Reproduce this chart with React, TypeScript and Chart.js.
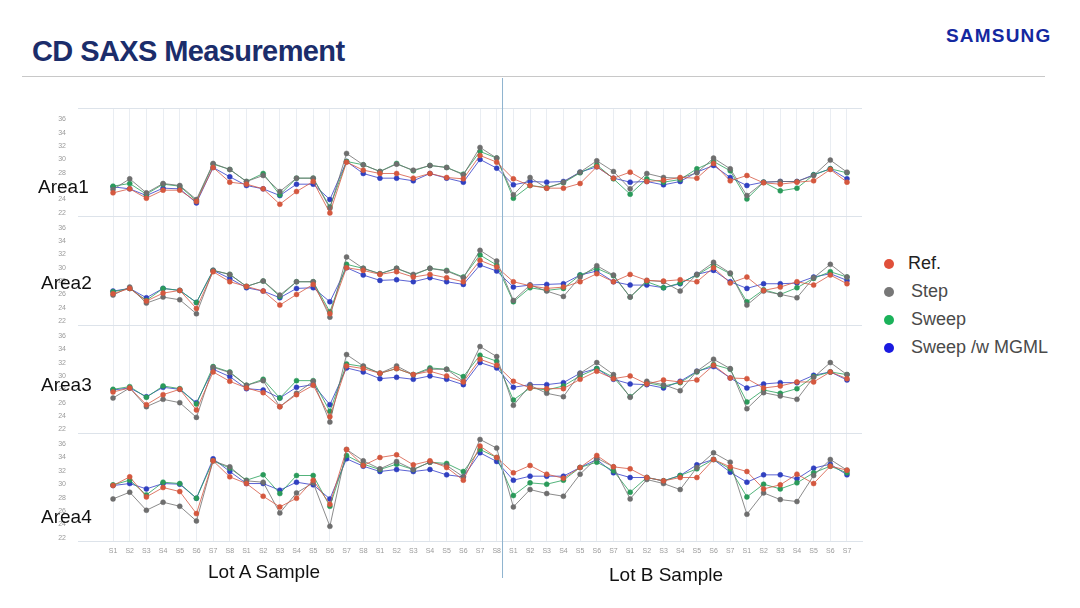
import { useEffect, useRef } from "react"
import { Chart, registerables } from "chart.js"

Chart.register(...registerables)

const sampleLabels = [
  "S1", "S2", "S3", "S4", "S5", "S6", "S7", "S8",
  "S1", "S2", "S3", "S4", "S5", "S6", "S7", "S8",
  "S1", "S2", "S3", "S4", "S5", "S6", "S7", "S8",
  "S1", "S2", "S3", "S4", "S5", "S6", "S7",
  "S1", "S2", "S3", "S4", "S5", "S6", "S7",
  "S1", "S2", "S3", "S4", "S5", "S6", "S7",
]
const yTicks = [22, 24, 26, 28, 30, 32, 34, 36]
const areaNames = ["Area1", "Area2", "Area3", "Area4"]
const seriesNames = ["Ref.", "Step", "Sweep", "Sweep /w MGML"]

const area1Ref = [25.0, 25.6, 24.2, 25.4, 25.4, 23.7, 28.8, 26.6, 26.3, 25.6, 23.3, 25.2, 26.7, 22.0, 29.6, 28.4, 27.9, 27.9, 27.2, 27.9, 27.3, 27.1, 30.6, 29.6,
  27.1, 26.1, 25.7, 25.7, 26.4, 28.9, 27.2, 28.1, 26.7, 26.9, 27.3, 27.2, 29.4, 26.8, 27.6, 26.5, 26.3, 26.6, 26.8, 28.5, 26.6]
const area1Step = [25.5, 27.1, 25.0, 26.4, 26.1, 24.0, 29.4, 28.5, 26.7, 27.6, 25.2, 27.2, 27.2, 22.7, 30.9, 29.2, 28.2, 29.3, 28.4, 29.1, 28.8, 27.7, 31.8, 30.2,
  24.7, 27.3, 25.7, 26.6, 28.1, 29.8, 28.2, 25.6, 27.9, 27.3, 27.2, 28.0, 30.2, 28.6, 24.6, 26.6, 26.7, 26.7, 27.6, 29.9, 28.1]
const area1Sweep = [26.0, 26.4, 24.8, 26.3, 26.0, 23.8, 29.3, 28.5, 26.7, 27.9, 24.7, 27.2, 27.2, 22.9, 29.7, 29.2, 28.2, 29.4, 28.3, 29.1, 28.8, 27.8, 31.2, 30.2,
  24.2, 26.1, 25.8, 26.5, 28.0, 29.2, 27.1, 24.8, 27.1, 26.6, 27.0, 28.6, 29.7, 28.3, 24.1, 26.6, 25.3, 25.7, 27.7, 28.6, 28.0]
const area1Mgml = [25.9, 25.6, 24.6, 25.7, 25.6, 23.5, 28.8, 27.4, 26.1, 25.6, 24.6, 26.3, 26.3, 24.0, 29.7, 27.9, 27.2, 27.2, 26.8, 27.9, 27.2, 26.6, 30.0, 28.7,
  26.2, 26.7, 26.6, 26.7, 28.1, 28.9, 27.2, 26.6, 26.7, 26.2, 26.7, 28.1, 29.1, 27.3, 26.1, 26.6, 26.7, 26.7, 27.7, 28.6, 27.1]

const area2Ref = [26.1, 26.9, 25.0, 26.2, 26.6, 23.9, 29.4, 27.9, 27.2, 26.5, 24.4, 26.0, 27.5, 23.1, 30.0, 29.6, 29.0, 29.4, 28.6, 29.0, 28.5, 27.9, 31.1, 30.1,
  27.9, 27.3, 26.9, 27.1, 27.9, 29.1, 27.9, 29.0, 28.1, 28.0, 28.2, 27.9, 30.0, 27.7, 28.6, 26.6, 27.1, 27.9, 27.4, 28.9, 27.6]
const area2Step = [25.9, 27.1, 24.7, 25.6, 25.2, 23.1, 29.6, 29.0, 27.2, 28.0, 25.9, 27.9, 27.9, 22.6, 31.6, 29.9, 29.1, 29.9, 29.0, 29.9, 29.5, 28.5, 32.6, 31.0,
  25.1, 27.4, 26.5, 25.7, 28.6, 30.3, 28.9, 25.6, 28.1, 27.9, 26.5, 29.0, 30.8, 29.2, 24.4, 26.5, 26.0, 25.5, 28.5, 30.5, 28.6]
const area2Sweep = [26.4, 26.9, 25.1, 26.9, 26.6, 24.8, 29.6, 29.0, 27.2, 28.0, 25.7, 27.9, 27.9, 23.4, 30.5, 29.9, 29.1, 29.9, 28.9, 29.9, 29.6, 28.6, 31.9, 30.4,
  24.9, 27.0, 26.6, 26.9, 28.9, 29.9, 28.8, 25.6, 27.9, 27.0, 27.7, 28.9, 30.4, 29.1, 24.9, 26.7, 26.0, 27.0, 28.4, 29.4, 28.6]
const area2Mgml = [26.5, 26.9, 25.5, 26.9, 26.6, 24.8, 29.6, 28.4, 27.0, 26.5, 25.5, 26.9, 27.0, 24.9, 30.0, 28.9, 28.1, 28.2, 27.9, 28.5, 27.9, 27.5, 30.4, 29.5,
  27.1, 27.4, 27.5, 27.6, 28.9, 29.5, 27.9, 27.4, 27.4, 27.0, 27.6, 29.0, 29.6, 27.9, 26.9, 27.6, 27.6, 27.7, 28.6, 29.1, 28.1]

const area3Ref = [27.6, 28.2, 25.7, 27.2, 28.0, 24.9, 30.6, 29.2, 28.2, 27.5, 25.4, 27.2, 28.6, 23.9, 31.5, 31.1, 30.4, 31.1, 30.2, 30.7, 30.0, 29.1, 32.5, 31.6,
  29.2, 28.2, 28.1, 28.1, 29.5, 30.7, 29.6, 30.0, 28.8, 29.4, 29.1, 29.4, 31.6, 29.7, 29.6, 28.2, 28.5, 29.1, 29.1, 30.6, 29.6]
const area3Step = [26.7, 28.2, 25.4, 26.5, 26.0, 23.8, 31.3, 30.5, 28.6, 29.3, 25.4, 27.4, 29.2, 23.1, 33.2, 31.5, 30.4, 31.5, 30.2, 31.0, 31.0, 29.2, 34.4, 32.9,
  25.6, 28.6, 27.4, 26.9, 30.4, 32.0, 30.2, 26.8, 29.2, 28.7, 27.8, 30.7, 32.5, 31.1, 25.1, 27.5, 27.0, 26.5, 29.8, 32.0, 30.2]
const area3Sweep = [28.0, 28.4, 26.8, 28.5, 28.1, 25.8, 31.4, 30.6, 28.6, 29.5, 26.7, 29.3, 29.3, 24.7, 31.8, 31.4, 30.4, 31.1, 30.2, 31.2, 31.0, 29.9, 33.1, 32.2,
  26.4, 28.2, 27.9, 28.5, 30.0, 31.1, 29.8, 26.9, 29.0, 28.5, 29.0, 30.6, 31.7, 31.0, 26.1, 27.9, 27.4, 28.1, 29.9, 30.6, 30.2]
const area3Mgml = [27.9, 28.2, 26.9, 28.3, 28.0, 26.0, 31.0, 29.9, 28.1, 27.9, 26.7, 28.3, 28.7, 25.7, 31.2, 30.6, 29.6, 29.8, 29.5, 30.0, 29.5, 28.7, 32.0, 31.2,
  28.3, 28.7, 28.7, 29.0, 30.4, 31.1, 29.5, 28.8, 28.7, 28.2, 29.2, 30.7, 31.4, 29.7, 28.2, 28.8, 29.0, 29.0, 30.1, 30.6, 29.4]

const area4Ref = [29.8, 31.1, 28.1, 29.5, 28.9, 25.6, 33.5, 31.1, 30.1, 28.2, 26.6, 27.9, 30.6, 27.0, 35.2, 32.8, 34.0, 34.4, 32.9, 33.5, 32.5, 30.6, 35.7, 34.0,
  31.7, 32.8, 31.5, 30.9, 32.5, 34.3, 32.6, 32.3, 31.0, 30.5, 31.0, 31.0, 33.7, 32.6, 31.9, 29.3, 29.9, 31.5, 30.1, 32.7, 32.1]
const area4Step = [27.8, 28.8, 26.1, 27.3, 26.7, 24.5, 33.5, 32.6, 30.5, 30.3, 25.7, 28.7, 30.2, 23.7, 35.2, 33.5, 32.3, 33.4, 32.2, 33.3, 32.8, 31.1, 36.7, 35.4,
  26.6, 29.2, 28.6, 28.2, 31.5, 33.9, 32.6, 27.8, 30.7, 30.1, 29.2, 32.5, 34.7, 33.3, 25.5, 28.7, 27.7, 27.4, 31.3, 33.7, 32.1]
const area4Sweep = [29.9, 30.6, 28.4, 30.3, 30.1, 27.9, 33.5, 32.4, 30.6, 31.4, 28.6, 31.3, 31.3, 26.7, 34.3, 33.0, 32.2, 33.0, 32.2, 33.3, 33.1, 31.9, 35.2, 34.0,
  28.3, 30.2, 30.0, 30.6, 32.5, 33.3, 32.0, 28.8, 31.0, 30.5, 31.3, 32.3, 33.7, 32.3, 28.1, 30.0, 29.3, 30.2, 31.7, 32.7, 31.7]
const area4Mgml = [29.8, 30.1, 29.3, 30.1, 30.0, 27.9, 33.8, 31.9, 30.1, 30.1, 29.1, 30.3, 29.9, 27.8, 33.8, 32.7, 31.9, 32.2, 31.9, 32.2, 31.4, 31.1, 34.7, 33.4,
  30.6, 31.2, 31.2, 31.2, 32.5, 33.7, 31.7, 31.0, 31.0, 30.5, 31.3, 32.9, 33.7, 31.8, 30.3, 31.4, 31.4, 30.8, 32.4, 33.0, 31.4]

const areaSeries = [
  [area1Ref, area1Step, area1Sweep, area1Mgml],
  [area2Ref, area2Step, area2Sweep, area2Mgml],
  [area3Ref, area3Step, area3Sweep, area3Mgml],
  [area4Ref, area4Step, area4Sweep, area4Mgml],
]

const lineColors = ["rgba(214,88,66,0.8)", "rgba(110,110,110,0.8)", "rgba(40,160,90,0.8)", "rgba(50,60,200,0.8)"]
const dotColors = ["#d4583f", "#6e6e6e", "#2a9a5a", "#3040c0"]
const legendColors = ["#e0503a", "#777777", "#1bb25a", "#1a1ae0"]

const dividerPlugin = {
  id: "panels",
  afterDraw(chart: any) {
    const ctx = chart.ctx
    const { left, right } = chart.chartArea
    ctx.save()
    ctx.strokeStyle = "#dde3ea"
    ctx.lineWidth = 1
    ;["y1", "y2", "y3", "y4"].forEach((id) => {
      const s = chart.scales[id]
      ;[s.top, s.bottom].forEach((y: number) => {
        ctx.beginPath()
        ctx.moveTo(left, Math.round(y) + 0.5)
        ctx.lineTo(right, Math.round(y) + 0.5)
        ctx.stroke()
      })
    })
    const x = chart.scales.x.getPixelForValue(23.35)
    ctx.strokeStyle = "#8fb3cf"
    ctx.beginPath()
    ctx.moveTo(x, 0)
    ctx.lineTo(x, chart.height)
    ctx.stroke()
    ctx.restore()
  },
}

export default function App() {
  const chartRef = useRef<HTMLCanvasElement>(null)

  useEffect(() => {
    if (!chartRef.current) return
    const datasets: any[] = []
    areaSeries.forEach((series, a) => {
      series.forEach((values, s) => {
        datasets.push({
          label: `${areaNames[a]} ${seriesNames[s]}`,
          data: values.map((v, i) => ({ x: i, y: v })),
          yAxisID: `y${a + 1}`,
          borderColor: lineColors[s],
          backgroundColor: dotColors[s],
          pointBorderColor: dotColors[s],
          borderWidth: 1,
          pointRadius: 2.5,
          pointBorderWidth: 0.5,
          tension: 0,
        })
      })
    })

    const yAxis = () => ({
      type: "linear" as const,
      position: "left" as const,
      stack: "areas",
      stackWeight: 1,
      min: 21.5,
      max: 37.7,
      afterBuildTicks: (scale: any) => {
        scale.ticks = yTicks.map((v) => ({ value: v }))
      },
      afterFit: (scale: any) => {
        scale.width = 20
      },
      grid: { display: false },
      border: { display: false },
      ticks: { color: "#9a9a9a", font: { size: 7, family: "Arial" }, padding: 4, autoSkip: false },
    })

    const chart = new Chart(chartRef.current, {
      type: "line",
      data: { datasets },
      plugins: [dividerPlugin],
      options: {
        animation: false,
        responsive: false,
        layout: { padding: { top: 30, bottom: 17, right: 8 } },
        plugins: { legend: { display: false }, tooltip: { enabled: false } },
        scales: {
          x: {
            type: "linear",
            min: -2.1,
            max: 44.9,
            afterBuildTicks: (scale: any) => {
              scale.ticks = sampleLabels.map((_, i) => ({ value: i }))
            },
            afterFit: (scale: any) => {
              scale.height = 20
            },
            grid: { color: "#e9edf2", drawTicks: false },
            border: { color: "#dde3ea" },
            ticks: {
              color: "#9a9a9a",
              font: { size: 7, family: "Arial" },
              autoSkip: false,
              maxRotation: 0,
              padding: 6,
              callback: (v: any) => sampleLabels[v] ?? "",
            },
          },
          y4: yAxis(),
          y3: yAxis(),
          y2: yAxis(),
          y1: yAxis(),
        },
      },
    })
    return () => chart.destroy()
  }, [])

  const areaLabelTops = [176, 272, 374, 506]

  return (
    <div style={{ position: "fixed", left: 0, top: 0, width: 1080, height: 608, background: "#fff", fontFamily: "Arial, 'Liberation Sans', sans-serif", overflow: "hidden" }}>
      <div style={{ position: "absolute", left: 32, top: 35, fontSize: 29, fontWeight: 700, color: "#1b2d6b", letterSpacing: -0.6 }}>
        CD SAXS Measurement
      </div>
      <div style={{ position: "absolute", left: 946, top: 25, fontSize: 19, fontWeight: 700, color: "#1428a0", letterSpacing: 1.2 }}>
        SAMSUNG
      </div>
      <div style={{ position: "absolute", left: 22, top: 76, width: 1023, height: 1, background: "#c8c8c8" }} />
      <canvas ref={chartRef} width={812} height={500} style={{ position: "absolute", left: 58, top: 78, width: 812, height: 500 }} />
      {areaNames.map((n, i) => (
        <div key={n} style={{ position: "absolute", left: i === 0 ? 38 : 41, top: areaLabelTops[i], fontSize: 19, color: "#111" }}>
          {n}
        </div>
      ))}
      <div style={{ position: "absolute", left: 208, top: 561, fontSize: 19, color: "#111" }}>Lot A Sample</div>
      <div style={{ position: "absolute", left: 609, top: 564, fontSize: 19, color: "#111" }}>Lot B Sample</div>
      {seriesNames.map((n, i) => (
        <div key={n} style={{ position: "absolute", left: 884, top: 253 + i * 28, display: "flex", alignItems: "center", fontSize: 18, color: i === 0 ? "#222" : "#4a4a4a" }}>
          <span style={{ width: 10, height: 10, borderRadius: 5, background: legendColors[i], marginRight: i === 0 ? 14 : 17 }} />
          {n}
        </div>
      ))}
    </div>
  )
}
